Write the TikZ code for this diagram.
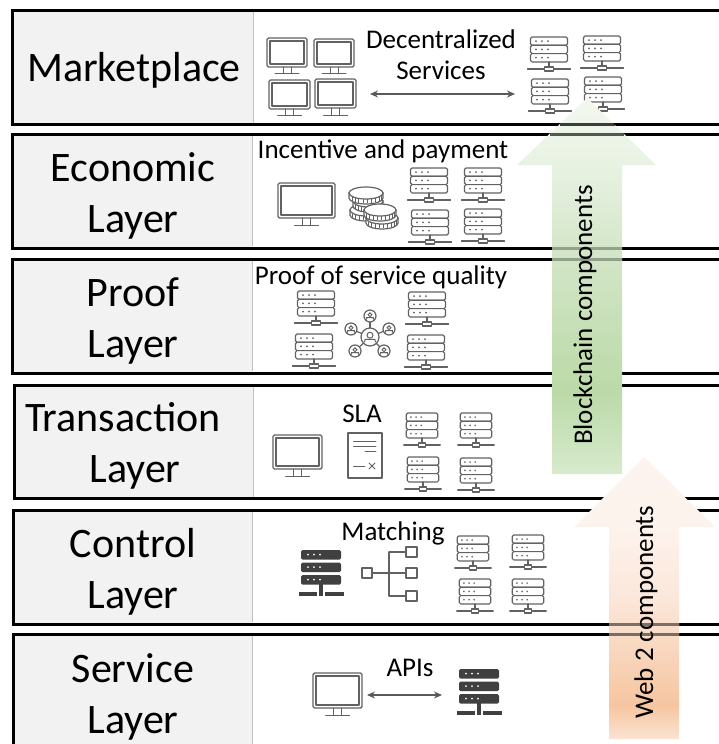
\documentclass[tikz,border=0pt]{standalone}
\usepackage{fontspec}
\setmainfont{Carlito}
\definecolor{icon}{HTML}{626262}
\definecolor{darkicon}{HTML}{404040}
\definecolor{panel}{HTML}{F2F2F2}
\definecolor{ga}{HTML}{F3F8EF}\definecolor{gb}{HTML}{E8F2E2}\definecolor{gc}{HTML}{D2E5C6}\definecolor{gd}{HTML}{BBDAA8}\definecolor{ge}{HTML}{D8EACD}
\definecolor{oa}{HTML}{FCF3EE}\definecolor{ob}{HTML}{FDF3ED}\definecolor{oc}{HTML}{FBE7DA}\definecolor{od}{HTML}{F6C5A0}\definecolor{oe}{HTML}{FBE3D2}
\pgfdeclareverticalshading{greenshade}{100bp}{color(0bp)=(ge);color(25bp)=(ge);color(36bp)=(gd);color(53.5bp)=(gc);color(66.1bp)=(gb);color(75bp)=(ga);color(100bp)=(ga)}
\pgfdeclareverticalshading{orangeshade}{100bp}{color(0bp)=(oe);color(25bp)=(oe);color(31bp)=(od);color(50bp)=(oc);color(62.6bp)=(ob);color(75bp)=(oa);color(100bp)=(oa)}
\tikzset{
  frame/.style={line width=3pt,black},
  panelbox/.style={fill=panel,draw=none},
  paneledge/.style={draw=black!25,line width=.7pt},
  layerlabel/.style={font=\fontsize{42}{51}\selectfont,align=center,inner sep=0pt,text=black},
  toplabel/.style={font=\fontsize{27}{31}\selectfont,align=center,inner sep=0pt,text=black},
  sidelabel/.style={font=\fontsize{27}{31}\selectfont,rotate=90,inner sep=0pt,text=black},
  iconline/.style={draw=icon,line width=1.2pt,line cap=round,line join=round},
  darrow/.style={draw=black!65,line width=1.2pt,{Stealth[length=8pt,width=7pt]}-{Stealth[length=8pt,width=7pt]}},
  overline/.style={line width=3pt,black},
}
% light server: centre x, top y, horizontal scale
\newcommand{\srv}[3]{\begin{scope}[shift={(#1,#2)},xscale=#3]
 \foreach \yy in {0,8.3,16.6}{
  \draw[iconline,fill=white,rounded corners=1.5pt] (-18.5,\yy) rectangle (18.5,\yy+8.3);
  \foreach \xx in {-13,-7,-1}{\fill[icon] (\xx,\yy+4.1) circle[radius=1pt];}
 }
 \draw[iconline] (0,25) -- (0,30);
 \draw[iconline] (-21.5,32) -- (21.5,32);
 \draw[iconline,fill=white] (-4.5,30) rectangle (4.5,34);
\end{scope}}
% dark server
\newcommand{\srvdark}[2]{\begin{scope}[shift={(#1,#2)}]
 \foreach \yy in {0,12.5,25}{
  \fill[darkicon,rounded corners=1.5pt] (-20,\yy) rectangle (20,\yy+9.5);
  \foreach \xx in {-13,-7,-1}{\fill[white] (\xx,\yy+4.7) circle[radius=1pt];}
 }
 \fill[darkicon] (-1.7,34) rectangle (1.7,42);
 \fill[darkicon] (-22,42) rectangle (-4,46);
 \fill[darkicon] (-2,42) rectangle (2,46);
 \fill[darkicon] (4,42) rectangle (23,46);
\end{scope}}
% monitor: left, top, right, bottom of screen, base y
\newcommand{\mon}[5]{
 \draw[iconline,rounded corners=1.5pt,line width=1.4pt,fill=white] (#1,#2) rectangle (#3,#4);
 \draw[iconline,line width=1.1pt] ($(#1,#2)+(3,3)$) rectangle ($(#3,#4)+(-3,-3)$);
 \draw[iconline,line width=1pt] ($({(#1+#3)/2},#4)+(-4,0)$) -- ($({(#1+#3)/2},#5)+(-4,0)$);
 \draw[iconline,line width=1pt] ($({(#1+#3)/2},#4)+(4,0)$) -- ($({(#1+#3)/2},#5)+(4,0)$);
 \draw[iconline,line width=1pt] ($({(#1+#3)/2},#5)+(-12,0)$) -- ($({(#1+#3)/2},#5)+(12,0)$);
}
% coin: centre of top face, x radius
\newcommand{\coin}[3]{\begin{scope}[shift={(#1,#2)}]
 \draw[draw=icon,line width=1.2pt,fill=white] (-#3,0) -- (-#3,5) arc[start angle=180,end angle=0,x radius=#3,y radius=6] -- (#3,0) -- cycle;
 \foreach \aa in {25,40,...,155}{\draw[icon,line width=.9pt] ({#3*cos(\aa)},{6*sin(\aa)+.5}) -- ({#3*cos(\aa)},{6*sin(\aa)+4.5});}
 \draw[draw=icon,line width=1.2pt,fill=white] (0,0) ellipse[x radius=#3,y radius=6];
\end{scope}}
% person in circle
\newcommand{\person}[3]{\begin{scope}[shift={(#1,#2)}]
 \draw[iconline,fill=white] (0,0) circle[radius=#3];
 \draw[icon,line width=1pt] (0,{-.2*#3}) circle[radius={.33*#3}];
 \draw[icon,line width=1pt] ({-.6*#3},{.6*#3}) -- ({-.55*#3},{.25*#3}) -- ({.55*#3},{.25*#3}) -- ({.6*#3},{.6*#3});
\end{scope}}
\usetikzlibrary{arrows.meta,calc}
\begin{document}
\begin{tikzpicture}[x=1pt,y=-1pt]
\useasboundingbox (0,0) rectangle (719,744);
% layer panels
\path[panelbox] (13,10.5) rectangle (253,124.5);
\path[panelbox] (12,134) rectangle (252,248);
\path[panelbox] (12,259) rectangle (252,373);
\path[panelbox] (14,385) rectangle (253,498);
\path[panelbox] (13,510) rectangle (252,624);
\path[panelbox] (13,634.5) rectangle (252,744);
\draw[paneledge] (253,12) -- (253,123);
\draw[paneledge] (252,136) -- (252,246);
\draw[paneledge] (252,261) -- (252,371);
\draw[paneledge] (253,387) -- (253,497);
\draw[paneledge] (252,512) -- (252,622);
\draw[paneledge] (252,636) -- (252,744);
% frames
\draw[frame] (719,10.5) -- (12.5,10.5) -- (12.5,124.5) -- (719,124.5);
\draw[frame] (719,134) -- (12,134) -- (12,248) -- (719,248);
\draw[frame] (719,259) -- (12,259) -- (12,373.5) -- (719,373.5);
\draw[frame] (719,385) -- (14,385) -- (14,498.5) -- (719,498.5);
\draw[frame] (719,510) -- (13,510) -- (13,624) -- (719,624);
\draw[frame] (719,634.5) -- (13,634.5) -- (13,746);
% layer names
\node[layerlabel] (marketplace) at (134,70) {Marketplace};
\node[layerlabel] (economic) at (133,195.5) {Economic\\Layer};
\node[layerlabel] (proof) at (133,320.5) {Proof\\Layer};
\node[layerlabel] (transaction) at (123,445.5) {Transaction\\\hspace*{24pt}Layer};
\node[layerlabel] (control) at (133,571.5) {Control\\Layer};
\node[layerlabel] (service) at (133,696.5) {Service\\Layer};
% marketplace icons
\mon{267}{38}{307}{67}{73}
\mon{314}{39}{354}{67}{73}
\mon{269}{80}{310}{109}{115}
\mon{315}{79}{356}{108}{115}
\srv{549}{37}{1}\srv{602}{36}{1}\srv{550}{79}{1}\srv{603}{77}{1}
\node[toplabel] (decentralized) at (441,55) {Decentralized\\Services};
\coordinate (mleft) at (370,94); \coordinate (mright) at (515,94);
\draw[darrow] (mleft) -- (mright);
% economic icons
\node[toplabel] (incentive) at (383,151.5) {Incentive and payment};
\mon{278}{183}{335}{218}{225}
\coin{366}{210}{16}\coin{368}{201}{15}\coin{366}{193}{17}
\coin{382}{218}{16}\coin{380}{210}{16}
\srv{429}{168}{1}\srv{483}{168}{1}\srv{430}{210}{1}\srv{483}{209}{1}
% proof icons
\node[toplabel] (proofq) at (381,277) {Proof of service quality};
\srv{316}{291}{1}\srv{427}{292}{1}\srv{314}{334}{1}\srv{426}{335}{1}
\coordinate (hub) at (370,337);
\foreach \px/\py in {370/316,351/329,389/329,355/351,384/351}{\draw[iconline] (hub) -- (\px,\py);}
\person{370}{316}{6}\person{351}{329}{6}\person{389}{329}{6}\person{355}{351}{6}\person{384}{351}{6}\person{370}{337}{9}
% transaction icons
\node[toplabel] (sla) at (362,414) {SLA};
\mon{273}{435}{322}{469}{476}
\draw[iconline,fill=white] (348,433) rectangle (382,478);
\foreach \ly/\lx in {441/353.5,446/353.5,451/365}{\draw[iconline,line width=.9pt] (\lx,\ly+.5) -- (376,\ly+.5);}
\draw[iconline,line width=.9pt] (353.5,466) -- (365,466);
\draw[iconline,line width=.9pt] (369,463) -- (375,469) (375,463) -- (369,469);
\srv{422}{413}{.85}\srv{476}{413}{.85}\srv{423}{457}{.85}\srv{476}{458}{.85}
% control icons
\node[toplabel] (matching) at (393,533) {Matching};
\srvdark{321}{550}
\draw[iconline,line width=1.3pt] (362,568) rectangle (372,578);
\draw[iconline,line width=1.1pt] (372,573) -- (406,573) (389,552) -- (389,596) (389,552) -- (406,552) (389,596) -- (406,596);
\draw[iconline,line width=1.3pt] (406,547) rectangle (417,557);
\draw[iconline,line width=1.3pt] (406,568) rectangle (417,578);
\draw[iconline,line width=1.3pt] (406,591) rectangle (417,601);
\srv{473}{536}{.85}\srv{528}{535}{.85}\srv{475}{579}{.85}\srv{528}{579}{.85}
% service icons
\node[toplabel] (apis) at (410,668) {APIs};
\mon{313}{673}{362}{708}{715}
\coordinate (sleft) at (367,695); \coordinate (sright) at (442,695);
\draw[darrow] (sleft) -- (sright);
\srvdark{479}{669}
% big arrows
\path[shading=greenshade] (587,98) -- (656,165) -- (622,165) -- (622,474) -- (552,474) -- (552,165) -- (517,165) -- cycle;
\path[shading=orangeshade] (644,457) -- (715,527) -- (679,527) -- (679,739) -- (609,739) -- (609,527) -- (574,527) -- cycle;
% frame lines seen through the arrows
\draw[overline,opacity=.75] (559.5,124.5) -- (614.5,124.5);
\draw[overline,opacity=.65] (550,134) -- (624,134);
\draw[overline,opacity=.3] (552,248) -- (622,248);
\draw[overline,opacity=.3] (552,259) -- (622,259);
\draw[overline,opacity=.5] (609,624) -- (679,624);
\draw[overline,opacity=.5] (609,634.5) -- (679,634.5);
% arrow captions
\node[sidelabel] (blockchain) at (585,315) {Blockchain components};
\node[sidelabel] (webtwo) at (646,612) {Web 2 components};
\end{tikzpicture}
\end{document}
